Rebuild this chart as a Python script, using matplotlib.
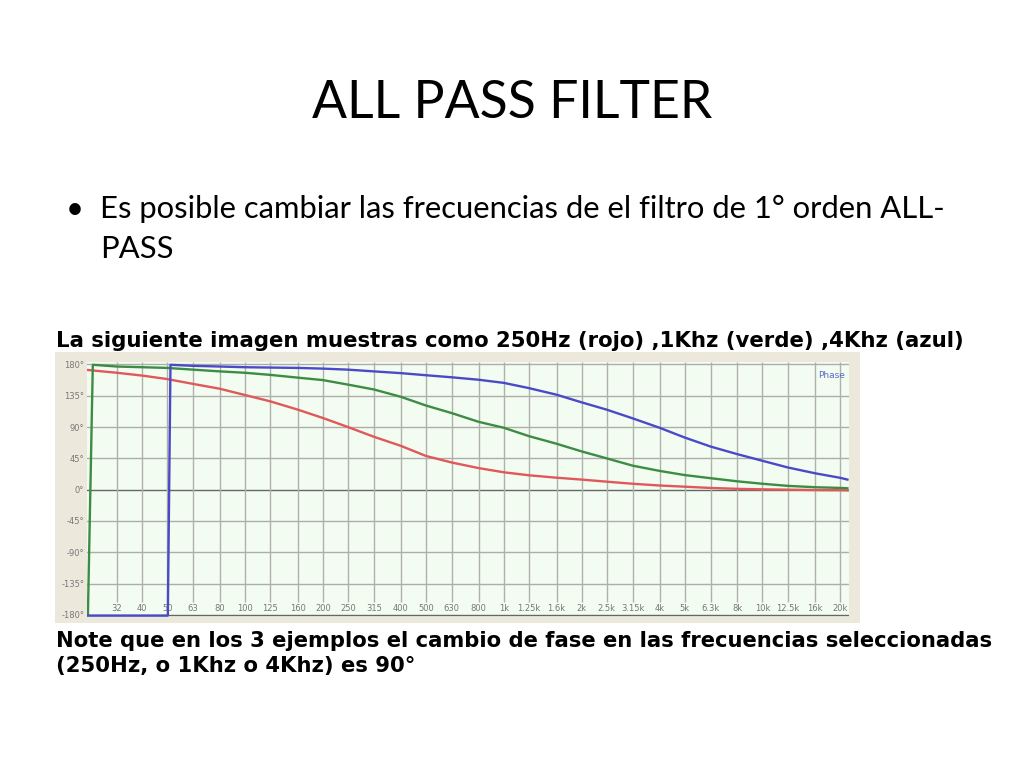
import matplotlib
matplotlib.use("Agg")
import matplotlib.pyplot as plt
from matplotlib.patches import Rectangle

# third-octave grid of the analyser screenshot
freq_ticks = [32, 40, 50, 63, 80, 100, 125, 160, 200, 250, 315, 400, 500, 630, 800,
              1000, 1250, 1600, 2000, 2500, 3150, 4000, 5000, 6300, 8000, 10000,
              12500, 16000, 20000]
tick_labels = ["32", "40", "50", "63", "80", "100", "125", "160", "200", "250", "315",
               "400", "500", "630", "800", "1k", "1.25k", "1.6k", "2k", "2.5k", "3.15k",
               "4k", "5k", "6.3k", "8k", "10k", "12.5k", "16k", "20k"]
phase_ticks = [180, 135, 90, 45, 0, -45, -90, -135, -180]
phase_labels = ["180°", "135°", "90°", "45°", "0°", "-45°", "-90°", "-135°", "-180°"]

# 250 Hz (rojo)
f_red = [24.7] + freq_ticks + [21300]
red = [172, 168, 164, 159, 152, 145, 136, 127, 115, 103, 90, 76, 63, 48.5, 39, 31,
       25, 20.7, 17.2, 14.5, 11.5, 8.5, 6, 4.3, 2.5, 1.2, 0.5, 0, -0.5, -0.8, -1]

# 1 kHz (verde)
f_green = [24.7, 25.8] + freq_ticks + [21300]
green = [-180, 179.5, 177, 176, 175, 172.5, 170, 168, 165, 161, 157.5, 151, 144, 133.5,
         121, 110, 97.5, 89, 77, 66, 55, 45, 34.5, 27, 21, 16.5, 12, 8.5, 5.5, 3.5,
         2.5, 2]

# 4 kHz (azul)
f_blue = [24.7, 50.3, 51.5] + freq_ticks[3:] + [21300]
blue = [-181, -181, 179.5, 178, 177, 176, 175.5, 175, 174, 172.5, 170, 167.5, 164.5,
        161.5, 158, 153.5, 146, 136.5, 125.5, 115, 102.5, 89, 75, 62, 51, 41.5, 32,
        23.5, 17, 14.5]

W, H = 1024, 768
fig = plt.figure(figsize=(W / 100, H / 100), dpi=100)
fig.patch.set_facecolor("white")


def fx(px):
    return px / W


def fy(py):
    return 1 - py / H


# beige frame of the pasted screenshot
fig.add_artist(Rectangle((fx(55), fy(623)), fx(805), 271 / H,
                         transform=fig.transFigure, color="#ece9dc", lw=0, zorder=-5))

ax = fig.add_axes([fx(87), fy(617), 762 / W, 255 / H])
ax.set_facecolor("#f3fcf0")
ax.set_xscale("log")
ax.set_xlim(24.5, 21600)
ax.set_ylim(-183, 183.5)
for s in ax.spines.values():
    s.set_visible(False)

for p in phase_ticks:
    dark = p in (0, -180)
    ax.axhline(p, color="#666666" if dark else "#adadad", lw=1.0, zorder=1)
ax.vlines(freq_ticks, -162, 183.5, color="#b0b0b0", lw=1.0, zorder=1)

ax.set_xticks([])
ax.minorticks_off()
ax.set_yticks(phase_ticks, phase_labels)
ax.tick_params(axis="y", length=0, labelsize=6, labelcolor="#777777", pad=2)

for f, lab in zip(freq_ticks, tick_labels):
    ax.text(f, -171, lab, ha="center", va="center", fontsize=6, color="#777777")

ax.plot(f_red, red, color="#e0585a", lw=1.7, zorder=3)
ax.plot(f_green, green, color="#3c8c44", lw=1.7, zorder=3)
ax.plot(f_blue, blue, color="#4a4ac8", lw=1.7, zorder=4)

ax.text(0.995, 0.965, "Phase", transform=ax.transAxes, ha="right", va="top",
        fontsize=6.5, color="#5a6ad0")

renderer = fig.canvas.get_renderer()


def put(x, y, s, width, **kw):
    t = fig.text(fx(x), fy(y), s, va="baseline", **kw)
    bb = t.get_window_extent(renderer)
    t.set_fontsize(t.get_fontsize() * width / bb.width)
    return t


slide_font = ["Lato", "DejaVu Sans"]
put(512, 118, "ALL PASS FILTER", 400, ha="center", family=slide_font, fontsize=40)
line1 = put(100, 218, "Es posible cambiar las frecuencias de el filtro de 1° orden ALL-",
            850, family=slide_font, fontsize=20)
fig.text(fx(66), fy(218), "•", va="baseline", family=slide_font,
         fontsize=line1.get_fontsize())
fig.text(fx(100), fy(258), "PASS", va="baseline", family=slide_font,
         fontsize=line1.get_fontsize())

bold = dict(family="DejaVu Sans", weight="bold", fontsize=13, color="black")
put(56, 347, "La siguiente imagen muestras como 250Hz (rojo) ,1Khz (verde) ,4Khz (azul)",
    906, **bold)
foot = put(56, 647, "Note que en los 3 ejemplos el cambio de fase en las frecuencias seleccionadas",
           928, **bold)
fig.text(fx(56), fy(672), "(250Hz, o 1Khz o 4Khz) es 90°", va="baseline",
         family="DejaVu Sans", weight="bold", fontsize=foot.get_fontsize())

fig.savefig("out.png", dpi=100)
